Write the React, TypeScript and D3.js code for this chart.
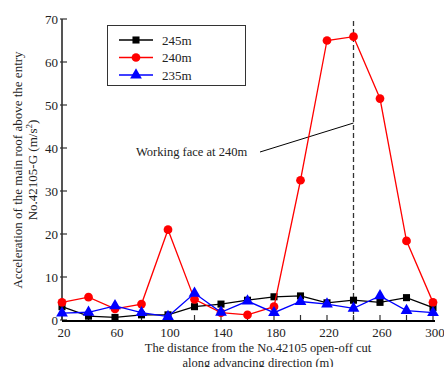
import { useEffect, useRef } from "react";
import * as d3 from "d3";

const distances = [20, 40, 60, 80, 100, 120, 140, 160, 180, 200, 220, 240, 260, 280, 300];
const s245 = [3.1, 0.9, 0.6, 1.2, 1.2, 3.1, 3.7, 4.6, 5.4, 5.6, 4.0, 4.6, 4.1, 5.2, 2.9];
const s240 = [4.1, 5.3, 2.6, 3.7, 21.0, 4.8, 1.7, 1.2, 3.1, 32.5, 65.0, 65.9, 51.5, 18.4, 4.1];
const s235 = [1.6, 1.8, 3.3, 1.7, 0.8, 6.2, 1.8, 4.4, 1.7, 4.3, 3.7, 2.7, 5.6, 2.2, 1.7];
const seriesNames = ["245m", "240m", "235m"];
const xTickLabels = [20, 60, 100, 140, 180, 220, 260, 300];
const yTickLabels = [0, 10, 20, 30, 40, 50, 60, 70];

const W = 444;
const H = 367;
const FONT = "'Liberation Serif', 'Times New Roman', serif";

const App = () => {
  const ref = useRef<SVGSVGElement>(null);

  useEffect(() => {
    const svg = d3.select(ref.current);
    svg.selectAll("*").remove();

    const x = d3.scaleLinear().domain([20, 300]).range([62, 433]);
    const y = d3.scaleLinear().domain([0, 70]).range([320, 19]);

    const series = [
      { name: seriesNames[0], values: s245, color: "#000000", shape: d3.symbolSquare, size: 50 },
      { name: seriesNames[1], values: s240, color: "#ff0000", shape: d3.symbolCircle, size: 60 },
      { name: seriesNames[2], values: s235, color: "#0000ff", shape: d3.symbolTriangle, size: 60 },
    ];

    // axes
    const ax = svg.append("g").attr("font-family", FONT).attr("font-size", 13).attr("fill", "#222");
    ax.append("line")
      .attr("x1", x(20)).attr("x2", x(20))
      .attr("y1", y(70)).attr("y2", y(0))
      .attr("stroke", "#555").attr("stroke-width", 2);
    yTickLabels.forEach((v) => {
      ax.append("line")
        .attr("x1", x(20) - 2).attr("x2", x(20) + 5)
        .attr("y1", y(v)).attr("y2", y(v))
        .attr("stroke", "#333").attr("stroke-width", 1.2);
      ax.append("text")
        .attr("x", x(20) - 4).attr("y", y(v) + 4.5)
        .attr("text-anchor", "end")
        .text(v);
    });
    d3.range(20, 301, 20).forEach((v) => {
      ax.append("line")
        .attr("x1", x(v)).attr("x2", x(v))
        .attr("y1", y(0)).attr("y2", y(0) - 5)
        .attr("stroke", "#333").attr("stroke-width", 1.2);
    });
    xTickLabels.forEach((v) => {
      ax.append("text")
        .attr("x", x(v) + 2).attr("y", y(0) + 17)
        .attr("text-anchor", "middle")
        .text(v);
    });
    ax.append("line")
      .attr("x1", x(20)).attr("x2", x(300) + 2)
      .attr("y1", y(0) + 1).attr("y2", y(0) + 1)
      .attr("stroke", "#000").attr("stroke-width", 2);

    // axis titles
    ax.append("text")
      .attr("x", 258).attr("y", 352)
      .attr("text-anchor", "middle")
      .attr("font-size", 12.5)
      .text("The distance from the No.42105 open-off cut");
    ax.append("text")
      .attr("x", 258).attr("y", 366.5)
      .attr("text-anchor", "middle")
      .attr("font-size", 12.5)
      .text("along advancing direction (m)");
    const yl = ax.append("text")
      .attr("transform", "translate(22,170) rotate(-90)")
      .attr("text-anchor", "middle");
    yl.append("tspan").attr("x", 0).attr("dy", 0).text("Acceleration of the main roof above the entry");
    const yl2 = ax.append("text")
      .attr("transform", "translate(37,170) rotate(-90)")
      .attr("text-anchor", "middle");
    yl2.append("tspan").text("No.42105-G (m/s");
    yl2.append("tspan").attr("font-size", 9).attr("dy", -5).text("2");
    yl2.append("tspan").attr("dy", 5).text(")");

    // working face marker
    svg.append("line")
      .attr("x1", x(240)).attr("x2", x(240))
      .attr("y1", 21).attr("y2", y(0))
      .attr("stroke", "#333").attr("stroke-width", 1.3)
      .attr("stroke-dasharray", "5,3");
    svg.append("line")
      .attr("x1", 260).attr("y1", 152)
      .attr("x2", x(240)).attr("y2", 123)
      .attr("stroke", "#000").attr("stroke-width", 1);
    svg.append("text")
      .attr("x", 136).attr("y", 156)
      .attr("font-family", FONT).attr("font-size", 12.5).attr("fill", "#222")
      .text("Working face at 240m");

    // series
    const line = d3.line<number>()
      .x((_, i) => x(distances[i]))
      .y((d) => y(d));
    series.forEach((s) => {
      svg.append("path")
        .attr("d", line(s.values))
        .attr("fill", "none")
        .attr("stroke", s.color)
        .attr("stroke-width", 1.3);
      svg.append("g")
        .selectAll("path")
        .data(s.values)
        .join("path")
        .attr("transform", (d, i) => `translate(${x(distances[i])},${y(d)})`)
        .attr("d", d3.symbol().type(s.shape).size(s.size)())
        .attr("fill", s.color);
    });

    // legend
    const lg = svg.append("g");
    lg.append("rect")
      .attr("x", 107.5).attr("y", 25.5)
      .attr("width", 138).attr("height", 60)
      .attr("fill", "#fff").attr("stroke", "#333").attr("stroke-width", 1);
    series.forEach((s, i) => {
      const ly = 40 + i * 17.5;
      lg.append("line")
        .attr("x1", 119).attr("x2", 153)
        .attr("y1", ly).attr("y2", ly)
        .attr("stroke", s.color).attr("stroke-width", 1.3);
      lg.append("path")
        .attr("transform", `translate(136,${ly})`)
        .attr("d", d3.symbol().type(s.shape).size(s.size)())
        .attr("fill", s.color);
      lg.append("text")
        .attr("x", 162).attr("y", ly + 4.5)
        .attr("font-family", FONT).attr("font-size", 13).attr("fill", "#222")
        .text(s.name);
    });
  }, []);

  return (
    <svg
      ref={ref}
      width={W}
      height={H}
      style={{ position: "absolute", left: 0, top: 0, background: "#fff" }}
    ></svg>
  );
};

export default App;
